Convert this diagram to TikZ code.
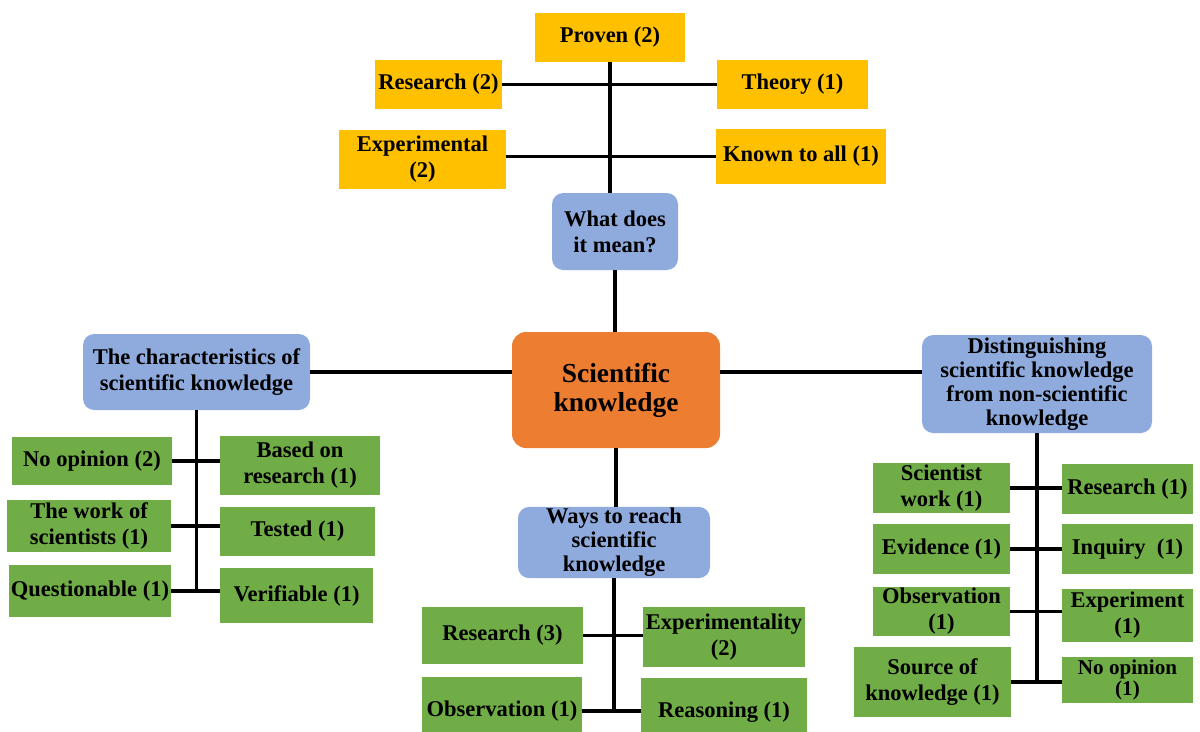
\documentclass[tikz,border=0pt]{standalone}
\usepackage{fontspec}
\setmainfont{Liberation Serif}
\usepackage{xcolor}
\usetikzlibrary{positioning}
\definecolor{gold}{RGB}{255,192,0}
\definecolor{leafgreen}{RGB}{112,173,71}
\definecolor{topicblue}{RGB}{143,170,220}
\definecolor{hubOrange}{RGB}{237,125,49}

\begin{document}
\begin{tikzpicture}[x=0.025cm, y=-0.025cm,
    base/.style={inner sep=1pt, align=center, text=black,
      font=\fontsize{16}{18.5}\selectfont\bfseries},
    wh/.style 2 args={minimum width=#1*0.025cm, minimum height=#2*0.025cm},
    meaning/.style={base, fill=gold},
    leaf/.style={base, fill=leafgreen},
    topic/.style={base, fill=topicblue, rounded corners=8pt},
    hub/.style={base, fill=hubOrange, rounded corners=10pt,
      font=\fontsize{19.5}{20.5}\selectfont\bfseries},
    link/.style={line width=2.2pt}]
    \useasboundingbox (0,0) rectangle (1200,731);

    % what does it mean?
    \node[meaning, wh={150}{49}] (proven) at (610,37.5) {Proven (2)};
    \node[meaning, wh={127}{49}] (research) at (438.5,84.5) {Research (2)};
    \node[meaning, wh={151}{49}] (theory) at (792.5,84.5) {Theory (1)};
    \node[meaning, wh={167}{59}] (exper) at (422.5,159.5) {Experimental\\(2)};
    \node[meaning, wh={170}{55}] (known) at (801,156.5) {Known to all (1)};
    \node[topic, wh={126}{77}] (mean) at (615,231.5) {What does\\it mean?};

    % centre and the three other topics
    \node[hub, wh={208}{116}] (sci) at (616,390) {Scientific\\knowledge};
    \node[topic, wh={227}{76}] (charac) at (196.5,372) {The characteristics of\\scientific knowledge};
    \node[topic, wh={230}{98}, font=\fontsize{16}{17}\selectfont\bfseries] (dist) at (1037,384)
      {Distinguishing\\scientific knowledge\\from non-scientific\\knowledge};
    \node[topic, wh={192}{71}, font=\fontsize{16}{17}\selectfont\bfseries] (ways) at (614,542.5)
      {Ways to reach\\scientific\\knowledge};

    % characteristics
    \node[leaf, wh={160}{48}] (noop) at (92,461) {No opinion (2)};
    \node[leaf, wh={160}{59}] (based) at (300,465.5) {Based on\\research (1)};
    \node[leaf, wh={164}{52}] (work) at (89,526) {The work of\\scientists (1)};
    \node[leaf, wh={155}{49}] (tested) at (297.5,531.5) {Tested (1)};
    \node[leaf, wh={162}{52}] (quest) at (90,591) {Questionable (1)};
    \node[leaf, wh={153}{55}] (verif) at (296.5,595.5) {Verifiable (1)};

    % ways to reach
    \node[leaf, wh={161}{57}] (resthree) at (502.5,635.5) {Research (3)};
    \node[leaf, wh={162}{60}] (expty) at (724,637) {Experimentality\\(2)};
    \node[leaf, wh={160}{68}] (obsone) at (502,711) {Observation (1)};
    \node[leaf, wh={166}{68}] (reason) at (724,712) {Reasoning (1)};

    % distinguishing
    \node[leaf, wh={137}{50}] (sciwork) at (941.5,488) {Scientist\\work (1)};
    \node[leaf, wh={131}{50}] (resone) at (1127.5,489) {Research (1)};
    \node[leaf, wh={137}{50}] (evid) at (941.5,549) {Evidence (1)};
    \node[leaf, wh={131}{50}] (inq) at (1127.5,549) {Inquiry~ (1)};
    \node[leaf, wh={137}{47}] (obsv) at (941.5,611.5) {Observation\\(1)};
    \node[leaf, wh={131}{53}] (expt) at (1127.5,615.5) {Experiment\\(1)};
    \node[leaf, wh={157}{70}] (src) at (932.5,682) {Source of\\knowledge (1)};
    \node[leaf, wh={131}{46}, font=\fontsize{15}{15.5}\selectfont\bfseries] (noopone) at (1127.5,680) {No opinion\\(1)};

    % connectors
    \draw[link] (proven.south) -- (proven.south |- mean.north);
    \draw[link] (research.east) -- (theory.west);
    \draw[link] (exper.east |- known.west) -- (known.west);
    \draw[link] (mean.south) -- (mean.south |- sci.north);
    \draw[link] (charac.east) -- (charac.east -| sci.west);
    \draw[link] (charac.east -| sci.east) -- (charac.east -| dist.west);
    \draw[link] (sci.south) -- (sci.south |- ways.north);

    \draw[link] (charac.south) -- (charac.south |- quest.east);
    \draw[link] (noop.east) -- (noop.east -| based.west);
    \draw[link] (work.east) -- (work.east -| tested.west);
    \draw[link] (quest.east) -- (quest.east -| verif.west);

    \draw[link] (ways.south) -- (ways.south |- obsone.east);
    \draw[link] (resthree.east) -- (resthree.east -| expty.west);
    \draw[link] (obsone.east) -- (obsone.east -| reason.west);

    \draw[link] (dist.south) -- (dist.south |- src.east);
    \draw[link] (sciwork.east) -- (sciwork.east -| resone.west);
    \draw[link] (evid.east) -- (inq.west);
    \draw[link] (obsv.east) -- (obsv.east -| expt.west);
    \draw[link] (src.east) -- (src.east -| noopone.west);
\end{tikzpicture}
\end{document}
